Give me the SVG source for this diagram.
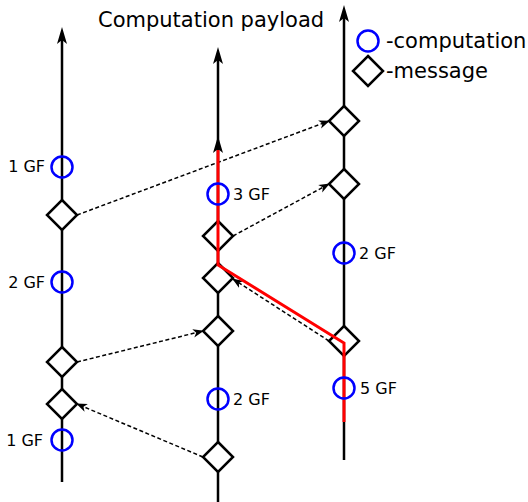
<svg xmlns="http://www.w3.org/2000/svg" width="528" height="502" viewBox="0 0 528 502">
  <style>
    text { font-family: "DejaVu Sans", "Liberation Sans", sans-serif; fill: #000; }
    .title { font-size: 21px; }
    .legend { font-size: 21px; }
    .lbl { font-size: 16px; }
    .axis { stroke: #000; stroke-width: 2.5; fill: none; }
    .comp { stroke: #0000ff; stroke-width: 2.5; fill: none; }
    .msg { stroke: #000; stroke-width: 2.5; fill: #fff; stroke-linejoin: miter; }
    .send { stroke: #000; stroke-width: 1.5; stroke-dasharray: 4 2.5; fill: none; }
    .crit { stroke: #ff0000; stroke-width: 3; fill: none; stroke-linejoin: miter; }
  </style>
  <defs>
    <path id="dia" d="M0,-15 L15,0 L0,15 L-15,0 Z"/>
    <path id="head" d="M0,0 L-5,17 L0,13 L5,17 Z" fill="#000"/>
    <marker id="tip" markerUnits="userSpaceOnUse" markerWidth="12" markerHeight="10" refX="10" refY="5" orient="auto" viewBox="0 0 12 10">
      <path d="M11,5 L0,0.8 L3,5 L0,9.2 Z" fill="#000"/>
    </marker>
  </defs>

  <text class="title" x="98" y="27">Computation payload</text>

  <!-- legend -->
  <g id="legend">
    <circle class="comp" cx="368" cy="41" r="10.5"/>
    <text class="legend" x="386" y="48">-computation</text>
    <use href="#dia" class="msg" x="368" y="71"/>
    <text class="legend" x="386" y="78">-message</text>
  </g>

  <!-- timelines -->
  <g id="timelines">
    <line class="axis" x1="62" y1="482" x2="62" y2="38"/>
    <use href="#head" x="62" y="27"/>
    <line class="axis" x1="218" y1="502" x2="218" y2="58"/>
    <use href="#head" x="218" y="47"/>
    <line class="axis" x1="344" y1="460" x2="344" y2="16"/>
    <use href="#head" x="344" y="5"/>
  </g>

  <!-- connectors -->
  <g id="connectors">
    <line class="send" x1="77" y1="215" x2="329" y2="121" marker-end="url(#tip)"/>
    <line class="send" x1="233" y1="236" x2="329" y2="184" marker-end="url(#tip)"/>
    <line class="send" x1="329" y1="341" x2="233" y2="279" marker-end="url(#tip)"/>
    <line class="send" x1="77" y1="362" x2="203" y2="331" marker-end="url(#tip)"/>
    <line class="send" x1="203" y1="457" x2="77" y2="404" marker-end="url(#tip)"/>
  </g>

  <!-- left process -->
  <g id="p1">
    <circle class="comp" cx="62" cy="167" r="10.5"/>
    <text class="lbl" x="45" y="172" text-anchor="end">1 GF</text>
    <use href="#dia" class="msg" x="62" y="215"/>
    <circle class="comp" cx="62" cy="282" r="10.5"/>
    <text class="lbl" x="45" y="288" text-anchor="end">2 GF</text>
    <use href="#dia" class="msg" x="62" y="362"/>
    <use href="#dia" class="msg" x="62" y="404"/>
    <circle class="comp" cx="62" cy="440" r="10.5"/>
    <text class="lbl" x="43" y="446" text-anchor="end">1 GF</text>
  </g>

  <!-- middle process -->
  <g id="p2">
    <use href="#dia" class="msg" x="218" y="236"/>
    <use href="#dia" class="msg" x="218" y="278"/>
    <use href="#dia" class="msg" x="218" y="331"/>
    <circle class="comp" cx="218" cy="399" r="10.5"/>
    <text class="lbl" x="233" y="405">2 GF</text>
    <use href="#dia" class="msg" x="218" y="457"/>
  </g>

  <!-- right process -->
  <g id="p3">
    <use href="#dia" class="msg" x="344" y="121"/>
    <use href="#dia" class="msg" x="344" y="184"/>
    <circle class="comp" cx="344" cy="253" r="10.5"/>
    <text class="lbl" x="359" y="259">2 GF</text>
    <use href="#dia" class="msg" x="344" y="341"/>
  </g>

  <!-- critical path -->
  <g id="critical-path">
    <polyline class="crit" points="218,150 218,265 344,343 344,422"/>
    <use href="#head" x="218" y="136"/>
    <circle class="comp" cx="218" cy="194" r="10.5"/>
    <text class="lbl" x="233" y="200">3 GF</text>
    <circle class="comp" cx="344" cy="388" r="10.5"/>
    <text class="lbl" x="360" y="394">5 GF</text>
  </g>
</svg>
